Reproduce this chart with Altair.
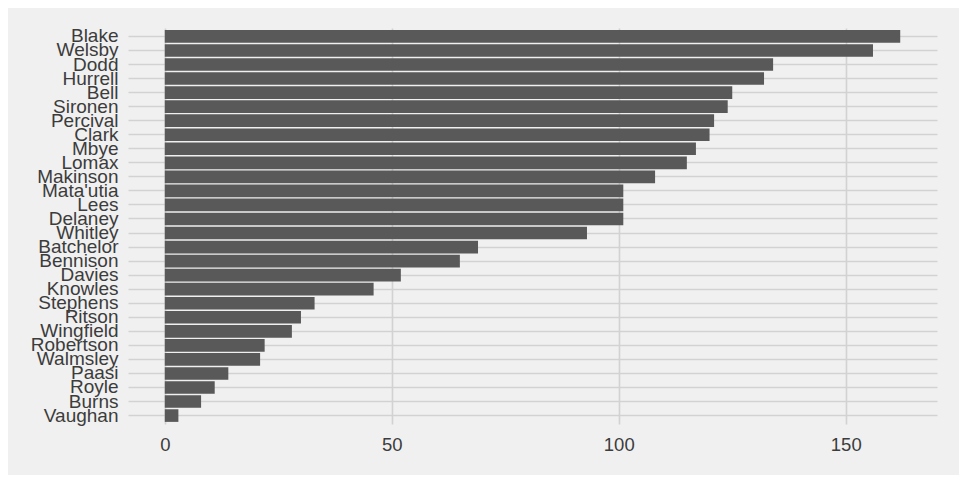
import altair as alt
import pandas as pd

players = ["Blake", "Welsby", "Dodd", "Hurrell", "Bell", "Sironen", "Percival",
           "Clark", "Mbye", "Lomax", "Makinson", "Mata'utia", "Lees", "Delaney",
           "Whitley", "Batchelor", "Bennison", "Davies", "Knowles", "Stephens",
           "Ritson", "Wingfield", "Robertson", "Walmsley", "Paasi", "Royle",
           "Burns", "Vaughan"]
values = [162, 156, 134, 132, 125, 124, 121, 120, 117, 115, 108, 101, 101, 101,
          93, 69, 65, 52, 46, 33, 30, 28, 22, 21, 14, 11, 8, 3]
x_ticks = [0, 50, 100, 150]

df = pd.DataFrame({"player": players, "value": values})

FONT = "Liberation Sans"
TXT = "#3C3C3C"
GRID = "#D2D2D2"

chart = alt.Chart(df).mark_bar(color="#595959").encode(
    x=alt.X("value:Q",
            scale=alt.Scale(domain=[-8.1, 170.1], nice=False, zero=False),
            axis=alt.Axis(values=x_ticks, title=None, grid=True, gridColor=GRID,
                          gridWidth=1.6, domain=False, ticks=False, tickSize=0,
                          labelFontSize=18.5, labelColor=TXT, labelFont=FONT,
                          labelPadding=11)),
    x2=alt.datum(0),
    y=alt.Y("player:N", sort=players,
            scale=alt.Scale(paddingInner=0.1, paddingOuter=0.15),
            axis=alt.Axis(title=None, grid=True, gridColor=GRID, gridWidth=1.6,
                          bandPosition=0.5, domain=False, ticks=False, tickSize=0,
                          labelFontSize=19, labelColor=TXT, labelFont=FONT,
                          labelPadding=10)),
).properties(
    width=809, height=396,
    autosize=alt.AutoSizeParams(type="none"),
    padding={"left": 120, "top": 20, "right": 22, "bottom": 51},
    background="#F0F0F0",
).configure_view(stroke=None)

chart.save("out.html", embed_options={"renderer": "svg", "actions": False})
